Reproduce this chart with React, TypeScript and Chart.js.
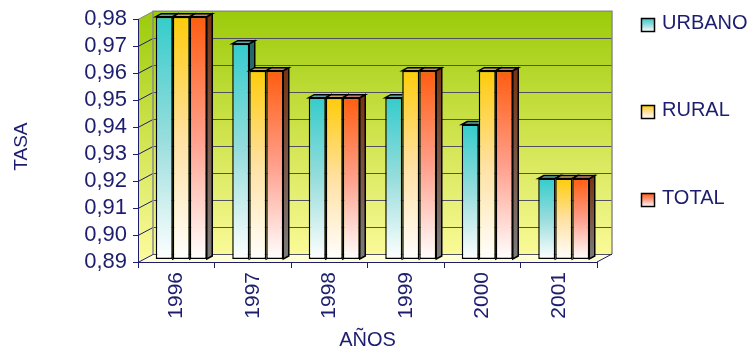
import React, { useEffect, useRef } from "react";
import { Chart, registerables } from "chart.js";

Chart.register(...registerables);

// ---- data ----
const years = ["1996", "1997", "1998", "1999", "2000", "2001"];
const urbano = [0.98, 0.97, 0.95, 0.95, 0.94, 0.92];
const rural = [0.98, 0.96, 0.95, 0.96, 0.96, 0.92];
const total = [0.98, 0.96, 0.95, 0.96, 0.96, 0.92];
const yTickValues = [0.89, 0.9, 0.91, 0.92, 0.93, 0.94, 0.95, 0.96, 0.97, 0.98];
const seriesNames = ["URBANO", "RURAL", "TOTAL"];

const Y_MIN = yTickValues[0];
const Y_MAX = yTickValues[yTickValues.length - 1];

// ---- styling ----
const INK = "#1d1d6f";
const FONT = "'Liberation Sans', Arial, sans-serif";

// offset of the back wall relative to the front plane
const WALL_DX = 15;
const WALL_DY = -8;
// bars sit a little behind the front plane
const BAR_SHIFT_X = 5;
const BAR_SHIFT_Y = -2.5;
// depth of every bar
const BAR_DX = 5.5;
const BAR_DY = -3;

const palettes = [
  { front: ["#35cccc", "#98dddd", "#ffffff"], top: "#62a8a8", side: ["#1f6868", "#7c7c7c"] },
  { front: ["#ffcc0a", "#ffe1a2", "#ffffff"], top: "#c8a95e", side: ["#7f650c", "#7c7c7c"] },
  { front: ["#ff5d10", "#ff9f8c", "#ffffff"], top: "#c88272", side: ["#7a3412", "#7c7c7c"] },
];
const wallStops = ["#9bcb0a", "#cfe34c", "#fafa98"];

const seriesValues = [urbano, rural, total];

function verticalGradient(ctx: CanvasRenderingContext2D, top: number, bottom: number, stops: string[]) {
  const g = ctx.createLinearGradient(0, top, 0, bottom);
  stops.forEach((c, i) => g.addColorStop(i / (stops.length - 1), c));
  return g;
}

function barFill(stops: string[]) {
  return (c: any) => {
    const chart = c.chart;
    const y = chart.scales && chart.scales.y;
    if (c.type !== "data" || !y || !chart.chartArea || c.raw == null) return stops[0];
    const top = y.getPixelForValue(c.raw);
    const bottom = y.getPixelForValue(Y_MIN);
    return verticalGradient(chart.ctx, top, bottom, stops);
  };
}

const box3d = {
  id: "box3d",
  beforeDraw(chart: any) {
    const { ctx, chartArea: a, scales } = chart;
    const y = scales.y;
    ctx.save();
    ctx.fillStyle = "#ffffff";
    ctx.fillRect(0, 0, chart.width, chart.height);

    const wallGrad = verticalGradient(ctx, a.top + WALL_DY, a.bottom + WALL_DY, wallStops);

    // left side wall
    ctx.fillStyle = wallGrad;
    ctx.beginPath();
    ctx.moveTo(a.left, a.top);
    ctx.lineTo(a.left + WALL_DX, a.top + WALL_DY);
    ctx.lineTo(a.left + WALL_DX, a.bottom + WALL_DY);
    ctx.lineTo(a.left, a.bottom);
    ctx.closePath();
    ctx.fill();

    // back wall
    ctx.fillRect(a.left + WALL_DX, a.top + WALL_DY, a.right - a.left, a.bottom - a.top);

    // floor
    ctx.fillStyle = "#ffffd6";
    ctx.beginPath();
    ctx.moveTo(a.left, a.bottom);
    ctx.lineTo(a.right, a.bottom);
    ctx.lineTo(a.right + WALL_DX, a.bottom + WALL_DY);
    ctx.lineTo(a.left + WALL_DX, a.bottom + WALL_DY);
    ctx.closePath();
    ctx.fill();

    // grid lines on the back wall and on the side wall
    ctx.lineWidth = 1;
    yTickValues.forEach((v) => {
      const py = Math.round(y.getPixelForValue(v)) + 0.5;
      ctx.strokeStyle = "#50505e";
      ctx.beginPath();
      ctx.moveTo(a.left + WALL_DX, py + WALL_DY);
      ctx.lineTo(a.right + WALL_DX, py + WALL_DY);
      ctx.stroke();
      ctx.strokeStyle = v === Y_MAX ? "#8a8a8a" : INK;
      ctx.beginPath();
      ctx.moveTo(a.left, py);
      ctx.lineTo(a.left + WALL_DX, py + WALL_DY);
      ctx.stroke();
    });

    // wall outline
    ctx.strokeStyle = "#8a8a8a";
    ctx.lineWidth = 1.5;
    ctx.beginPath();
    ctx.moveTo(a.left + WALL_DX, a.bottom + WALL_DY);
    ctx.lineTo(a.left + WALL_DX, a.top + WALL_DY);
    ctx.lineTo(a.right + WALL_DX, a.top + WALL_DY);
    ctx.lineTo(a.right + WALL_DX, a.bottom + WALL_DY);
    ctx.stroke();

    // right edge of the floor
    ctx.strokeStyle = INK;
    ctx.lineWidth = 1;
    ctx.beginPath();
    ctx.moveTo(a.right, a.bottom);
    ctx.lineTo(a.right + WALL_DX, a.bottom + WALL_DY);
    ctx.stroke();
    ctx.restore();
  },
  beforeDatasetsDraw(chart: any) {
    chart.ctx.save();
    chart.ctx.translate(BAR_SHIFT_X, BAR_SHIFT_Y);
  },
  afterDatasetsDraw(chart: any) {
    const ctx: CanvasRenderingContext2D = chart.ctx;
    const metas = seriesValues.map((_, i) => chart.getDatasetMeta(i));
    ctx.lineWidth = 1.5;
    ctx.strokeStyle = "#000000";
    ctx.lineJoin = "miter";
    for (let c = 0; c < years.length; c++) {
      for (let s = 0; s < metas.length; s++) {
        const bar = metas[s].data[c];
        const { x, y, base, width } = bar.getProps(["x", "y", "base", "width"], true);
        const x0 = x - width / 2;
        const x1 = x + width / 2;
        ctx.save();
        if (s + 1 < metas.length) {
          // the neighbouring bar hides whatever lies behind its front face
          const p = metas[s + 1].data[c].getProps(["x", "y", "base", "width"], true);
          ctx.beginPath();
          ctx.rect(-2000, -2000, 5000, 5000);
          ctx.rect(p.x - p.width / 2, p.y, p.width, p.base - p.y);
          ctx.clip("evenodd");
        }
        // side face
        ctx.fillStyle = verticalGradient(ctx, y, base, palettes[s].side);
        ctx.beginPath();
        ctx.moveTo(x1, y);
        ctx.lineTo(x1 + BAR_DX, y + BAR_DY);
        ctx.lineTo(x1 + BAR_DX, base + BAR_DY);
        ctx.lineTo(x1, base);
        ctx.closePath();
        ctx.fill();
        ctx.stroke();
        // top face
        ctx.fillStyle = palettes[s].top;
        ctx.beginPath();
        ctx.moveTo(x0, y);
        ctx.lineTo(x1, y);
        ctx.lineTo(x1 + BAR_DX, y + BAR_DY);
        ctx.lineTo(x0 + BAR_DX, y + BAR_DY);
        ctx.closePath();
        ctx.fill();
        ctx.stroke();
        ctx.restore();
      }
    }
    ctx.restore();
  },
  afterDraw(chart: any) {
    const ctx: CanvasRenderingContext2D = chart.ctx;
    const a = chart.chartArea;
    ctx.save();
    // vertical axis title
    ctx.fillStyle = INK;
    ctx.font = `19px ${FONT}`;
    ctx.textAlign = "center";
    ctx.textBaseline = "middle";
    ctx.translate(22, (a.top + a.bottom) / 2 + 6);
    ctx.rotate(-Math.PI / 2);
    ctx.fillText("TASA", 0, 0);
    ctx.restore();

    // legend
    const boxTops = [18, 105, 193];
    ctx.save();
    ctx.font = `20px ${FONT}`;
    ctx.textBaseline = "middle";
    ctx.textAlign = "left";
    seriesNames.forEach((name, i) => {
      const bx = 641.5;
      const by = boxTops[i] + 0.5;
      ctx.fillStyle = verticalGradient(ctx, by, by + 13, palettes[i].front);
      ctx.fillRect(bx, by, 13, 13);
      ctx.lineWidth = 1.5;
      ctx.strokeStyle = "#000000";
      ctx.strokeRect(bx, by, 13, 13);
      ctx.fillStyle = INK;
      ctx.fillText(name, 662, boxTops[i] + 5);
    });
    ctx.restore();
  },
};

export default function App() {
  const canvasRef = useRef<HTMLCanvasElement | null>(null);

  useEffect(() => {
    document.body.style.margin = "0";
    const canvas = canvasRef.current;
    if (!canvas) return;
    const chart = new Chart(canvas, {
      type: "bar",
      data: {
        labels: years,
        datasets: seriesValues.map((vals, i) => ({
          label: seriesNames[i],
          data: vals,
          base: Y_MIN,
          backgroundColor: barFill(palettes[i].front),
          borderColor: "#000000",
          borderWidth: 1.5,
          borderSkipped: false,
          barPercentage: 1,
          categoryPercentage: 0.667,
          clip: false,
        })) as any,
      },
      options: {
        animation: false,
        responsive: false,
        devicePixelRatio: 1,
        layout: { padding: { left: 0, top: 18, right: 153, bottom: 0 } },
        plugins: {
          legend: { display: false },
          tooltip: { enabled: false },
        },
        scales: {
          x: {
            type: "category",
            grid: {
              display: true,
              offset: true,
              drawOnChartArea: false,
              drawTicks: true,
              tickLength: 6,
              color: INK,
              lineWidth: 1,
            },
            border: { display: true, color: INK, width: 1 },
            ticks: {
              color: INK,
              font: { family: FONT, size: 21 },
              minRotation: 90,
              maxRotation: 90,
              padding: 4,
              autoSkip: false,
            },
            title: {
              display: true,
              text: "AÑOS",
              color: INK,
              font: { family: FONT, size: 20 },
              padding: { top: 0, bottom: 4 },
            },
            afterFit: (s: any) => {
              s.height = 94;
            },
          },
          y: {
            type: "linear",
            min: Y_MIN,
            max: Y_MAX,
            grid: {
              drawOnChartArea: false,
              drawTicks: true,
              tickLength: 5,
              color: INK,
              lineWidth: 1,
            },
            border: { display: true, color: INK, width: 1 },
            ticks: {
              color: INK,
              font: { family: FONT, size: 22 },
              padding: 6,
              autoSkip: false,
              callback: (v: any) => Number(v).toFixed(2).replace(".", ","),
            },
            afterBuildTicks: (s: any) => {
              s.ticks = yTickValues.map((v) => ({ value: v }));
            },
            afterFit: (s: any) => {
              s.width = 138;
            },
          },
        },
      } as any,
      plugins: [box3d],
    });
    return () => chart.destroy();
  }, []);

  return (
    <div style={{ width: 750, height: 356 }}>
      <canvas ref={canvasRef} width={750} height={356} />
    </div>
  );
}
